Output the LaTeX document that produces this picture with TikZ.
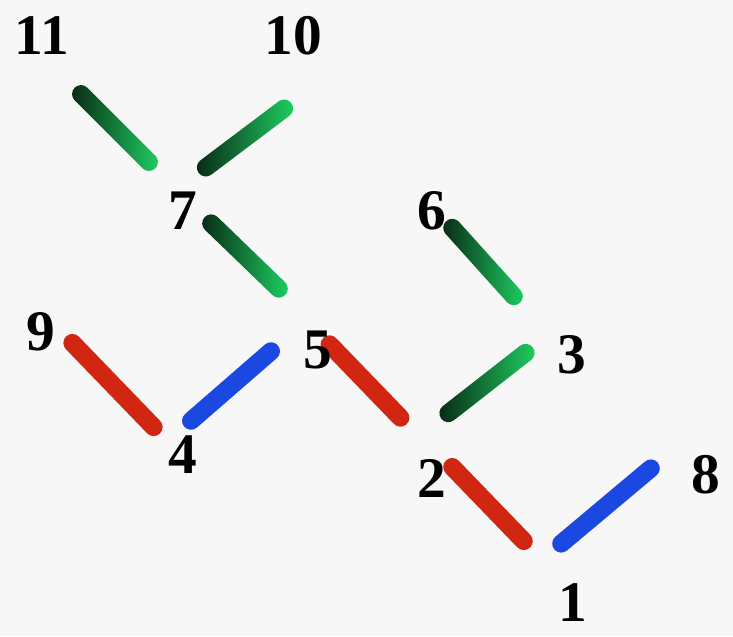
\documentclass[tikz,border=0pt]{standalone}
\usepackage{fontspec}
\setmainfont{Liberation Serif}
\definecolor{rodred}{RGB}{208,38,18}
\definecolor{rodblue}{RGB}{28,72,226}
\definecolor{rodgreenD}{RGB}{8,38,18}
\definecolor{rodgreenL}{RGB}{30,210,100}
\begin{document}
\begin{tikzpicture}[x=0.03cm, y=-0.03cm,
  rod/.style={rectangle, rounded corners=0.27cm, minimum height=0.54cm, inner sep=0pt},
  grod/.style={rod, left color=rodgreenD, right color=rodgreenL},
  rrod/.style={rod, fill=rodred},
  brod/.style={rod, fill=rodblue},
  num/.style={font=\fontsize{49}{49}\selectfont\bfseries, inner sep=0pt}]
% background
\fill[black!3] (0,0) rectangle (733,636);
\useasboundingbox (0,0) rectangle (733,636);
% green rods
\node[grod, minimum width=3.42cm, rotate=-45] (g11) at (115,128) {};
\node[grod, minimum width=3.48cm, rotate=37] (g10) at (245,138) {};
\node[grod, minimum width=3.36cm, rotate=-44] (g7) at (245,256) {};
\node[grod, minimum width=3.30cm, rotate=-48] (g6) at (483,262) {};
\node[grod, minimum width=3.48cm, rotate=38] (g3) at (487,383) {};
% red rods
\node[rrod, minimum width=4.05cm, rotate=-46] (r9) at (113,385) {};
\node[rrod, minimum width=3.60cm, rotate=-46] (r5) at (365,381) {};
\node[rrod, minimum width=3.63cm, rotate=-46] (r2) at (488,504) {};
% blue rods
\node[brod, minimum width=3.72cm, rotate=41] (b4) at (231,386) {};
\node[brod, minimum width=4.05cm, rotate=40] (b8) at (606,506) {};
% numbers
\node[num] (l11) at (42,36) {11};
\node[num] (l10) at (293,36) {10};
\node[num] (l7) at (183,211) {7};
\node[num] (l6) at (432,211) {6};
\node[num] (l9) at (41,332) {9};
\node[num] (l5) at (318,350) {5};
\node[num] (l3) at (572,355) {3};
\node[num] (l4) at (183,455) {4};
\node[num] (l2) at (432,478) {2};
\node[num] (l8) at (706,475) {8};
\node[num] (l1) at (573,603) {1};
\end{tikzpicture}
\end{document}
